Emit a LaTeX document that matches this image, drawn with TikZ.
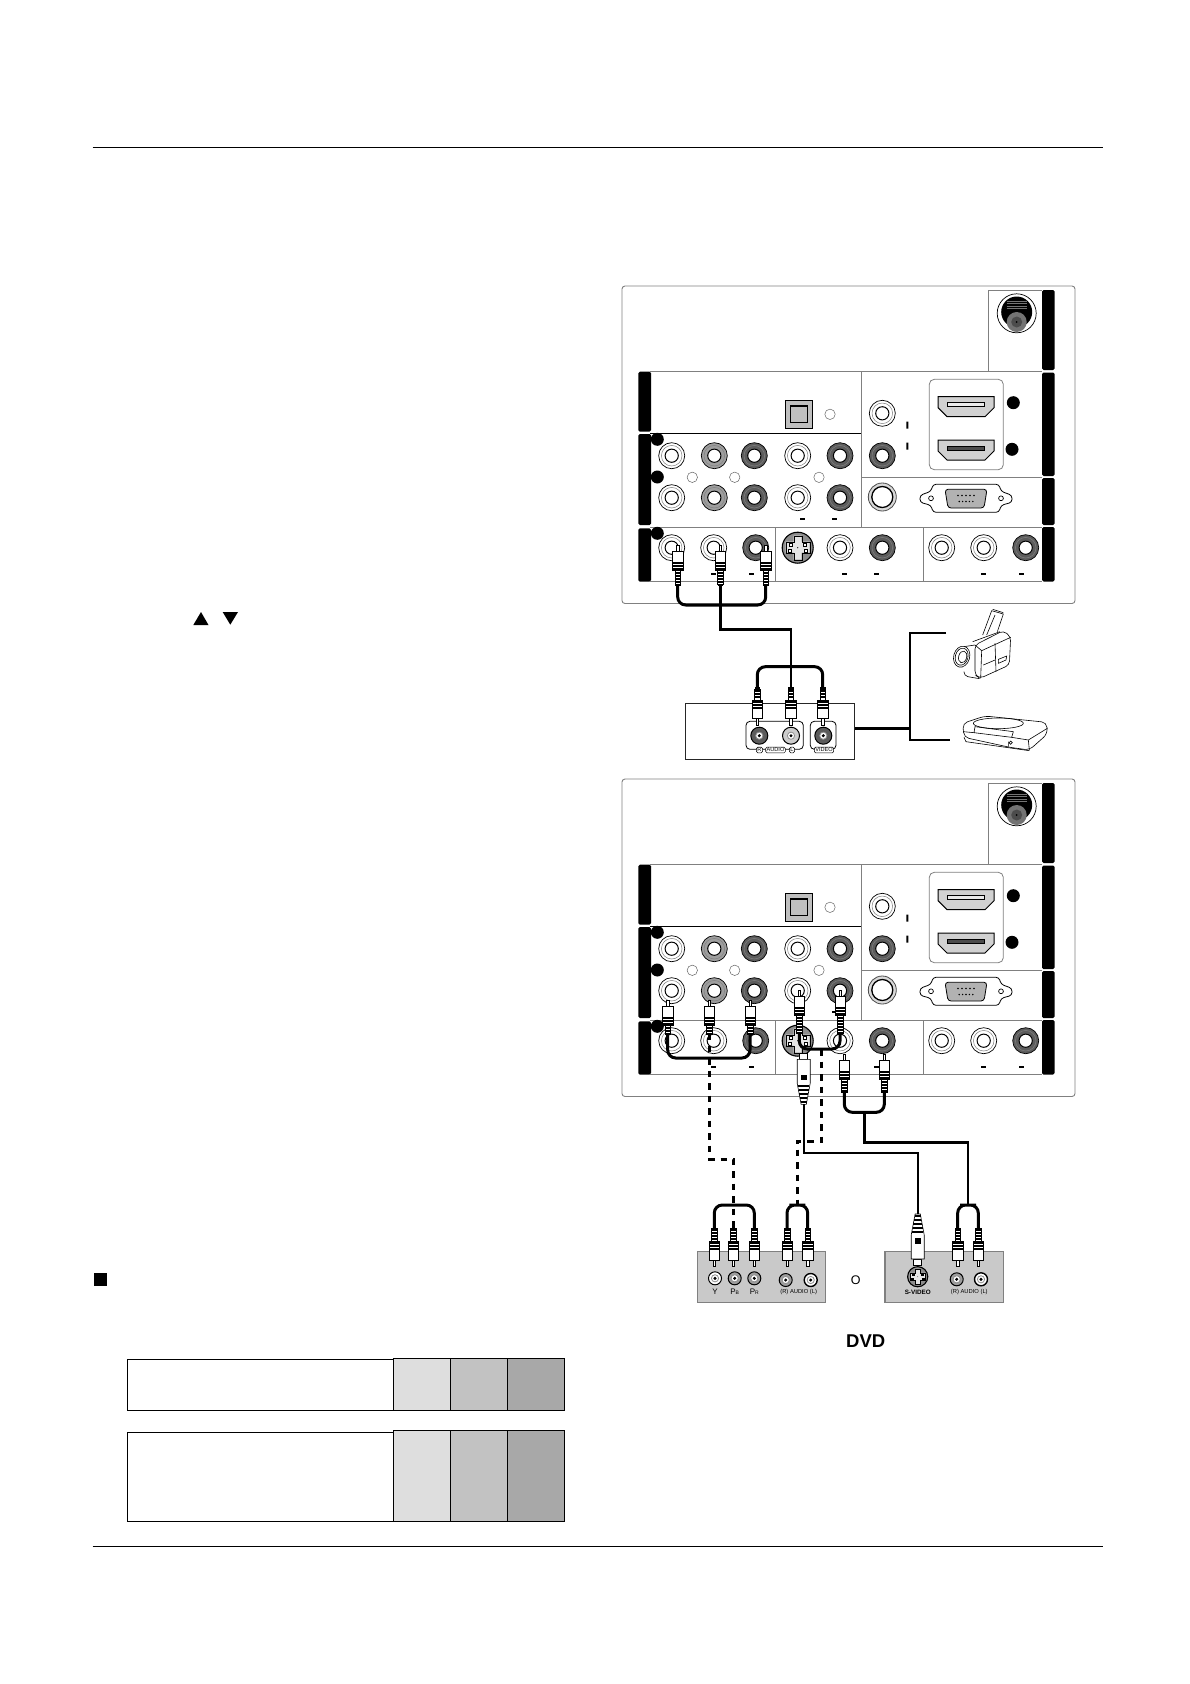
\documentclass[tikz,border=0pt]{standalone}
\usepackage{fontspec}
\setmainfont{Liberation Sans}
\definecolor{jackw}{gray}{1}
\definecolor{jackm}{gray}{.62}
\definecolor{jackd}{gray}{.36}
\definecolor{cellA}{gray}{.87}
\definecolor{cellB}{gray}{.76}
\definecolor{cellC}{gray}{.66}
\definecolor{dvdgray}{gray}{.79}
\tikzset{
    barblock/.style={fill=black, rounded corners=1.5}, % the black strips beside the panel
    panelline/.style={draw=black!50, line width=.9},
    rcajack/.style={circle, draw=black, line width=.7, fill=#1, inner sep=0, minimum size=26,
        path picture={
            \draw[black!50, line width=.5] (path picture bounding box.center) circle (10.3);
            \draw[black, line width=1, fill=white] (path picture bounding box.center) circle (6.6);
        }},
    minijack/.style={circle, draw=black, line width=1, fill=#1, inner sep=0, minimum size=13,
        path picture={
            \draw[black!45, line width=.8, fill=white] (path picture bounding box.center) circle (3.6);
            \fill[black] (path picture bounding box.center) circle (1.7);
        }},
    cable/.style={draw=black, line width=2.4},
    ucable/.style={draw=black, line width=3, rounded corners=8},
    dashcable/.style={draw=black, line width=3, dash pattern=on 6.5 off 6},
    avtag/.style={draw=black, line width=.5, fill=white, rounded corners=1.5, inner sep=1, font=\fontsize{5.6}{6}\selectfont},
    dvdbox/.style={draw=black!50, line width=1.4, fill=dvdgray, inner sep=0},
    dvdtext/.style={inner sep=0, font=\fontsize{5.8}{6}\selectfont},
    pics/rcaplug/.style={code={
        \draw[line width=.5, fill=white] (-1.2,0) rectangle (1.2,7);
        \draw[line width=.5, fill=white] (-2.8,25) rectangle (2.8,#1);
        \foreach \s in {27,30,...,#1} {\fill[black] (-2.8,\s) rectangle (2.8,\s+1.6);}
        \draw[line width=.6, fill=white] (-5.2,6.7) rectangle (5.2,25);
        \foreach \s in {16.5,19.5,22.5} {\fill[black] (-5.2,\s) rectangle (5.2,\s+2);}
        \coordinate (-end) at (0,#1);
    }},
    pics/svplug/.style={code={
        \draw[line width=.6, fill=white] (-4,0) rectangle (4,6);
        \draw[line width=.6, fill=white] (-6.5,6) -- (6.5,6) -- (6.5,30) -- (2.6,51) -- (-2.6,51) -- (-6.5,30) -- cycle;
        \fill[black] (-2.8,21.5) rectangle (2.8,27);
        \foreach \s in {32,36,...,48} {
            \pgfmathsetmacro\w{5.8-(\s-30)*.15}
            \fill[black] (-\w,\s) rectangle (\w,\s+1.6);
        }
        \coordinate (-end) at (0,51);
    }},
    pics/svideo/.style={code={
        \draw[line width=1.1, fill=black!45] (0,0) circle (15.5);
        \draw[line width=.35, fill=black!10] (-4,-12) -- (4,-12) -- (4,-6) -- (12,-6) -- (12,5) -- (4,5)
            -- (4,12) -- (-4,12) -- (-4,5) -- (-12,5) -- (-12,-6) -- (-4,-6) -- cycle;
        \foreach \sx/\sy in {-7/-3, 7/-3, -8/3, 8/3} {\draw[line width=.35, fill=white] (\sx-1.3,\sy-1.3) rectangle (\sx+1.3,\sy+1.3);}
        \fill[black] (0,0) circle (.6);
    }},
    pics/hdmi/.style={code={
        \draw[line width=1, fill=black!18] (-28,-10) -- (28,-10) -- (28,1) -- (19,10) -- (-19,10) -- (-28,1) -- cycle;
        \draw[line width=.8, fill=#1] (-18.5,-4) rectangle (18.5,0);
    }},
    pics/tvpanel/.style={code={
        \draw[panelline, rounded corners=3] (622,286) rectangle (1075,603.5);
        \foreach \bx/\by/\bt in {1042/290/370, 1042/372.7/476, 1042/478/525, 1042/527/581.5,
            638.3/371.7/431.7, 638.3/434/525, 638.3/528.3/581.7} {
            \path[barblock] (\bx,\by) rectangle (\bx+12.7,\bt);
        }
        \draw[panelline] (650,371.7) -- (1042,371.7) (988.3,371.7) -- (988.3,290) -- (1042,290);
        \draw[panelline] (861.3,372) -- (861.3,527) (861.3,477.3) -- (1042,477.3);
        \draw[panelline] (650,527) -- (1042,527) (650,581.3) -- (1042,581.3);
        \draw[panelline] (775.3,527) -- (775.3,581.3) (923.3,527) -- (923.3,581.3);
        \draw[black, line width=.9] (650,433.7) -- (861.3,433.7);
        % coax
        \draw[line width=.7, fill=white] (1016.7,313.3) circle (19.5);
        \fill[black] (1016.7,312) circle (15.5);
        \foreach \s in {-11,-8.5,-6,-3.5} {\draw[black!55, line width=.6] (1016.7-10,312+\s) -- (1016.7+10,312+\s);}
        \fill[black!55] (1016.7,322) circle (10);
        \fill[black!70] (1016.7,322) circle (5.5);
        \fill[black] (1016.7,322) circle (1);
        % hdmi
        \draw[draw=black!50, line width=.8, rounded corners=5] (929.3,379.3) rectangle (1003.3,469.7);
        \pic at (966,406.7) {hdmi=black!8};
        \pic at (966,450) {hdmi=black!70};
        \fill[black] (1013.3,402.7) circle (6.5) (1012,449.3) circle (6.5);
        \fill[black] (657.3,439.3) circle (6.5) (657.3,477) circle (6.5) (657.3,533.3) circle (6.5);
        \fill[black] (906.3,421.5) rectangle (908.3,428.5) (906.3,442.5) rectangle (908.3,449.5);
        \foreach \dx/\dy in {802/518.7, 834.3/518.7, 713.7/573.7, 751.7/573.7, 844.3/573.7, 876.7/573.7, 983.3/573.7, 1021.7/573.7} {
            \fill[black] (\dx-2.5,\dy-1) rectangle (\dx+2.5,\dy+1);
        }
        % optical
        \draw[line width=1.3, fill=black!25] (785.3,400.3) rectangle (812.7,428.3);
        \draw[line width=1.2] (790.7,406) rectangle (807.3,422.7);
        \foreach \cx/\cy in {830/414.3, 692.3/477.3, 734.7/477.3, 819/477.3} {
            \draw[black!60, line width=.5] (\cx,\cy) circle (5.2);
        }
        % jacks
        \foreach \n/\jx/\jy/\jc in {a1/671.7/455.7/jackw, a2/714.3/455.7/jackm, a3/754.3/455.7/jackd, a4/797.7/455.7/jackw, a5/840/455.7/jackd,
            b1/671.7/497.7/jackw, b2/714.3/497.7/jackm, b3/754.3/497.7/jackd, b4/797.7/497.7/jackw, b5/840/497.7/jackd,
            c1/882.3/413.3/jackw, c2/882.3/455.7/jackd,
            d1/671.7/547.7/jackw, d2/713.7/547.7/jackw, d3/755.7/547.7/jackd, d4/840/547.7/jackw, d5/882.3/547.7/jackd,
            e1/941.7/547.7/jackw, e2/983.7/547.7/jackw, e3/1025.7/547.7/jackd} {
            \node[rcajack=\jc] (-\n) at (\jx,\jy) {};
        }
        \node[circle, draw=black!70, fill=black!15, line width=.8, inner sep=0, minimum size=28,
            path picture={\draw[black, line width=1.3, fill=white] (path picture bounding box.center) circle (10.5);}] (-ring) at (882.3,497) {};
        \pic at (797.7,547.7) {svideo};
        % vga
        \draw[line width=.8, fill=white, rounded corners=3] (933,484.3) -- (999,484.3) -- (1001,491.3) -- (1012,495.3) -- (1012,502.3) -- (1001,505.3)
            -- (999,512.3) -- (933,512.3) -- (931,505.3) -- (920,502.3) -- (920,495.3) -- (931,491.3) -- cycle;
        \draw[line width=.8, fill=black!30, rounded corners=3] (945,489.3) -- (987,489.3) -- (984,508) -- (948,508) -- cycle;
        \foreach \vx in {-8,-4,0,4,8} {\fill[black] (966+\vx,495.5) circle (.8) (966+\vx*.85,501.5) circle (.8);}
        \draw[line width=.7] (931,498.3) circle (2.4) (1001,498.3) circle (2.4);
    }},
}
\begin{document}
\begin{tikzpicture}[x=1pt, y=-1pt]
    \useasboundingbox (0,0) rectangle (1190,1684);
    \fill[white] (0,0) rectangle (1190,1684);
    \draw[line width=1] (92.7,147) -- (1102.7,147);
    \draw[line width=1] (92.7,1546) -- (1102.7,1546);
    \fill[black] (193.3,625) -- (208.5,625) -- (201,612) -- cycle;
    \fill[black] (222.7,612) -- (238,612) -- (230.3,624.7) -- cycle;
    \fill[black] (94,1273) rectangle (107,1286);
    % tables
    \foreach \ty/\tb/\tz in {1359.3/1410.3/1358.3, 1432.7/1521.3/1430.7} {
        \draw[line width=.9] (127.7,\ty) rectangle (393.3,\tb);
        \draw[line width=.9, fill=cellA] (393.3,\tz) rectangle (450.3,\tb);
        \draw[line width=.9, fill=cellB] (450.3,\tz) rectangle (507.3,\tb);
        \draw[line width=.9, fill=cellC] (507.3,\tz) rectangle (564.3,\tb);
    }
    \pic (upper) at (0,0) {tvpanel};
    \pic (lower) at (0,493) {tvpanel};

    % camera or vcr side of the upper panel
    \node[draw=black!85, line width=1, inner sep=0, minimum width=169.4, minimum height=55.6] (avbox) at (770,731.5) {};
    \draw[line width=.8, rounded corners=4] (746,721.3) rectangle (803.3,749.3);
    \draw[line width=.8, rounded corners=4] (810.3,721.3) rectangle (836,749.3);
    \node[minijack=jackd, minimum size=17] (avR) at (759.3,735.7) {};
    \node[minijack=black!20, minimum size=17] (avL) at (791,735.7) {};
    \node[minijack=jackd, minimum size=17] (avV) at (823.3,735.7) {};
    \node[avtag] (tagR) at (759.5,750) {R};
    \node[avtag] (tagA) at (775.5,750) {AUDIO};
    \node[avtag] (tagL) at (792,750) {L};
    \node[avtag] (tagV) at (824,750) {VIDEO};

    \pic (ua) at (677.7,545) {rcaplug=39};
    \pic (ub) at (720.3,545) {rcaplug=39};
    \pic (uc) at (765.7,545) {rcaplug=39};
    \pic[rotate=180] (va) at (757.3,725) {rcaplug=36};
    \pic[rotate=180] (vb) at (790.7,725) {rcaplug=36};
    \pic[rotate=180] (vc) at (822.7,725) {rcaplug=36};
    \coordinate (ubase) at (720.3,605);
    \coordinate (vtop) at (790.7,666.7);
    \coordinate (ubend) at (720.3,629.3);
    \draw[ucable] (ua-end) |- (ubase) -| (uc-end);
    \draw[ucable] (va-end) |- (vtop) -| (vc-end);
    \draw[cable] (ub-end) |- (ubend) -| (vb-end);
    \coordinate (brk) at (910,728.3);
    \coordinate (camend) at (946,632.7);
    \coordinate (vcrend) at (950,740);
    \draw[cable] (avbox.east |- brk) -- (brk);
    \draw[cable] (camend) -| (vcrend -| brk) -- (vcrend);

    % camcorder
    \begin{scope}[shift={(940,600)}, scale=1/3, line width=.6]
        \draw[fill=white] (128,105) -- (155,32) -- (190,42) -- (172,95);
        \draw (158,28) -- (190,38) (165,45) -- (140,105);
        \draw[fill=white, rounded corners=4] (105,135) -- (190,92) -- (212,110) -- (208,195) -- (120,235) -- (105,225) -- cycle;
        \draw (105,135) -- (125,152) -- (122,235) (125,152) -- (212,112) (98,125) -- (180,95) (165,130) -- (168,215);
        \draw (130,195) -- (165,180) (175,178) -- (200,168) -- (198,180) -- (175,190) -- cycle;
        \draw[rounded corners=4] (58,142) -- (105,135) (72,215) -- (72,228) -- (118,236);
        \draw[fill=white, rotate around={-15:(65,170)}] (65,170) ellipse (24 and 32);
        \draw[rotate around={-15:(65,170)}] (65,170) ellipse (19 and 26) (68,170) ellipse (12 and 18);
    \end{scope}
    % vcr
    \begin{scope}[shift={(940,600)}, scale=1/3, line width=.6]
        \draw[fill=white, rounded corners=5] (68,370) -- (135,348) -- (320,367) -- (322,402) -- (268,450) -- (210,442) -- (72,412) -- cycle;
        \draw (175,370) ellipse (75 and 16);
        \draw (105,380) -- (220,395) -- (215,412) -- (102,398) -- cycle;
        \draw (70,395) -- (102,398) (215,412) -- (265,420) -- (322,385);
        \draw (265,420) -- (268,450) (205,425) -- (205,440) (72,412) -- (78,425) -- (268,452);
        \draw (212,428) circle (5);
    \end{scope}

    % dvd side of the lower panel
    \node[dvdbox, minimum width=128, minimum height=51] (boxA) at (761.7,1277.2) {};
    \node[dvdbox, minimum width=118.3, minimum height=51] (boxB) at (944.2,1277.2) {};
    \node[minijack=white] (jY) at (715,1278.3) {};
    \node[minijack=jackm] (jB) at (734.7,1278.3) {};
    \node[minijack=jackm] (jP) at (754.3,1278.3) {};
    \node[minijack=jackm] (jR) at (785.7,1280) {};
    \node[minijack=white, line width=1.4] (jL) at (810.7,1280) {};
    \node[minijack=jackm] (kR) at (956.7,1279.3) {};
    \node[minijack=white, line width=1.4] (kL) at (981,1279.3) {};
    \pic[scale=.65] at (917.7,1276.7) {svideo};
    \node[dvdtext, font=\fontsize{8}{9}\selectfont] (labY) at (715,1291.7) {Y};
    \node[dvdtext, font=\fontsize{8}{9}\selectfont] (labB) at (734.7,1291.7) {P\raisebox{-.2ex}{\fontsize{5}{5}\selectfont B}};
    \node[dvdtext, font=\fontsize{8}{9}\selectfont] (labR) at (754.3,1291.7) {P\raisebox{-.2ex}{\fontsize{5}{5}\selectfont R}};
    \node[dvdtext] (labA) at (798.7,1291.7) {(R) AUDIO (L)};
    \node[dvdtext] (labC) at (969.3,1291.7) {(R) AUDIO (L)};
    \node[dvdtext, font=\fontsize{6.3}{7}\selectfont\bfseries] (labS) at (917.7,1292.7) {S-VIDEO};
    \node[inner sep=0, font=\fontsize{12.5}{13}\selectfont] (orword) at (855.7,1280) {O};
    \node[inner sep=0, font=\fontsize{18.5}{20}\selectfont\bfseries] (dvdword) at (865.7,1340.7) {DVD};

    \pic (la) at (667.7,1000) {rcaplug=33};
    \pic (lb) at (709,1000) {rcaplug=33};
    \pic (lc) at (750,1000) {rcaplug=33};
    \pic (ld) at (799.3,990) {rcaplug=43};
    \pic (le) at (840,990) {rcaplug=43};
    \pic (lf) at (844.3,1054) {rcaplug=38};
    \pic (lg) at (884.3,1054) {rcaplug=38};
    \pic (ls) at (803.7,1053.3) {svplug};
    \foreach \n/\px in {pa/714.3, pb/733.3, pc/754.3, pd/787, pe/807.7, pf/957.7, pg/978.3} {
        \pic[rotate=180] (\n) at (\px,1266.7) {rcaplug=38.7};
    }
    \pic[rotate=180] (ms) at (917.7,1265) {svplug};

    \coordinate (labase) at (709,1058);
    \coordinate (ldbase) at (820,1049);
    \coordinate (lfbase) at (864.3,1112.3);
    \coordinate (patop) at (733.3,1205);
    \coordinate (pdtop) at (797.3,1205);
    \coordinate (pftop) at (968,1205);
    \coordinate (midturn) at (709,1159);
    \coordinate (audturn) at (821.7,1141);
    \coordinate (wideturn) at (864.3,1142.3);
    \coordinate (svturn) at (803.7,1152.7);
    \draw[ucable] (la-end) |- (labase) -| (lc-end);
    \draw[ucable] (ld-end) |- (ldbase) -| (le-end);
    \draw[ucable] (lf-end) |- (lfbase) -| (lg-end);
    \draw[ucable] (pa-end) |- (patop) -| (pc-end);
    \draw[ucable] (pd-end) |- (pdtop) -| (pe-end);
    \draw[ucable] (pf-end) |- (pftop) -| (pg-end);
    \draw[dashcable] (lb-end) -- (midturn) -| (pb-end);
    \draw[dashcable] (ldbase -| audturn) -- (audturn) -| (pdtop);
    \draw[cable] (lfbase) -- (wideturn) -| (pftop);
    \draw[cable] (ls-end) -- (svturn) -| (ms-end);
\end{tikzpicture}
\end{document}
